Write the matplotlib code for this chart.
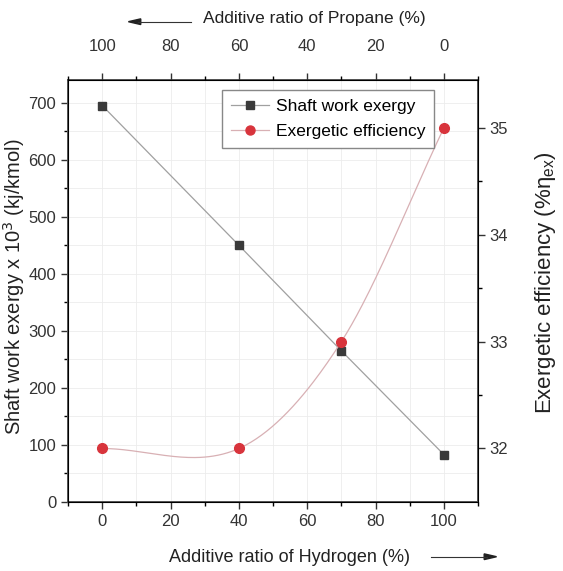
import numpy as np
import matplotlib.pyplot as plt

plt.rcParams['font.family'] = ['Liberation Sans', 'DejaVu Sans']

# data
hydrogen = [0, 40, 70, 100]
shaft_work = [695, 450, 265, 83]
efficiency = [32.0, 32.0, 33.0, 35.0]
bottom_ticks = [0, 20, 40, 60, 80, 100]
top_labels = ['100', '80', '60', '40', '20', '0']


def smooth_line(x, y, n=60):
    # cardinal (catmull-rom style) spline through the points
    x = np.asarray(x, float)
    y = np.asarray(y, float)
    m = np.zeros_like(y)
    m[0] = (y[1] - y[0]) / (x[1] - x[0])
    m[-1] = (y[-1] - y[-2]) / (x[-1] - x[-2])
    m[1:-1] = (y[2:] - y[:-2]) / (x[2:] - x[:-2])
    xs_all, ys_all = [], []
    for i in range(len(x) - 1):
        h = x[i + 1] - x[i]
        t = np.linspace(0, 1, n)
        h00 = 2 * t ** 3 - 3 * t ** 2 + 1
        h10 = t ** 3 - 2 * t ** 2 + t
        h01 = -2 * t ** 3 + 3 * t ** 2
        h11 = t ** 3 - t ** 2
        xs_all.append(x[i] + t * h)
        ys_all.append(h00 * y[i] + h10 * h * m[i] + h01 * y[i + 1] + h11 * h * m[i + 1])
    return np.concatenate(xs_all), np.concatenate(ys_all)


fig = plt.figure(figsize=(5.63, 5.71), dpi=100)
ax = fig.add_axes([0.121, 0.121, 0.728, 0.739])

ax.plot(hydrogen, shaft_work, color='#a0a0a0', lw=0.9, zorder=2)
ax.plot(hydrogen, shaft_work, ls='none', marker='s', ms=6, color='#3a3a3a', zorder=3)
ax.set_xlim(-10, 110)
ax.set_ylim(0, 740)
ax.set_xticks(bottom_ticks)
ax.set_xticks(np.arange(-10, 111, 10), minor=True)
ax.set_yticks(np.arange(0, 701, 100))
ax.set_yticks(np.arange(50, 740, 100), minor=True)
ax.grid(True, which='both', color='#ececec', lw=0.6)
ax.set_axisbelow(True)
ax.tick_params(labelsize=12, colors='#333333', length=5, width=1)
ax.tick_params(which='minor', length=3, width=1)
ax.set_ylabel('Shaft work exergy x 10$^3$ (kj/kmol)', fontsize=14.5, color='#222222')
ax.yaxis.set_label_coords(-0.1, 0.51)
ax.set_xlabel('Additive ratio of Hydrogen (%)', fontsize=13, color='#222222')
ax.xaxis.set_label_coords(0.54, -0.112)
for s in ax.spines.values():
    s.set_color('#555555')
    s.set_linewidth(1.2)

ax2 = ax.twinx()
xs, ys = smooth_line(hydrogen, efficiency)
ax2.plot(xs, ys, color='#d8b0b4', lw=0.9, zorder=2)
ax2.plot(hydrogen, efficiency, ls='none', marker='o', ms=7, color='#d8343c', zorder=3)
ax2.set_ylim(31.5, 35.45)
ax2.set_yticks([32, 33, 34, 35])
ax2.set_yticks([32.5, 33.5, 34.5], minor=True)
ax2.tick_params(labelsize=12, colors='#333333', length=5, width=1)
ax2.tick_params(which='minor', length=3, width=1)
ax2.set_ylabel(r'Exergetic efficiency (%$\mathregular{\eta_{ex}}$)', fontsize=16, color='#222222')
ax2.yaxis.set_label_coords(1.135, 0.52)
for s in ax2.spines.values():
    s.set_color('#555555')
    s.set_linewidth(1.2)

ax3 = ax.twiny()
ax3.set_xlim(ax.get_xlim())
ax3.set_xticks(bottom_ticks)
ax3.set_xticklabels(top_labels)
ax3.set_xticks(np.arange(-10, 111, 10), minor=True)
ax3.tick_params(labelsize=12, colors='#333333', length=5, width=1, pad=14)
ax3.tick_params(which='minor', length=3, width=1)
ax3.set_xlabel('Additive ratio of Propane (%)', fontsize=12.5, color='#222222')
ax3.xaxis.set_label_coords(0.6, 1.135)

# arrows beside the axis titles
fig.add_artist(plt.Line2D([0.245, 0.34], [0.962, 0.962], color='#333333', lw=0.8))
fig.add_artist(plt.Polygon([[0.228, 0.962], [0.25, 0.967], [0.25, 0.957]], closed=True,
                           color='#222222'))
fig.add_artist(plt.Line2D([0.765, 0.865], [0.025, 0.025], color='#333333', lw=0.8))
fig.add_artist(plt.Polygon([[0.882, 0.025], [0.86, 0.03], [0.86, 0.02]], closed=True,
                           color='#222222'))

h1 = plt.Line2D([], [], color='#a0a0a0', lw=0.9, marker='s', ms=5.5, mfc='#3a3a3a', mec='#3a3a3a')
h2 = plt.Line2D([], [], color='#d8b0b4', lw=0.9, marker='o', ms=6.5, mfc='#d8343c', mec='#d8343c')
leg = ax2.legend([h1, h2], ['Shaft work exergy', 'Exergetic efficiency'],
                 loc='upper left', bbox_to_anchor=(0.375, 0.976), fontsize=12.5,
                 fancybox=False, framealpha=1, edgecolor='#888888', borderaxespad=0,
                 handlelength=2.2, borderpad=0.5, labelspacing=0.6, handletextpad=0.4)

fig.savefig('out.png', dpi=100)
